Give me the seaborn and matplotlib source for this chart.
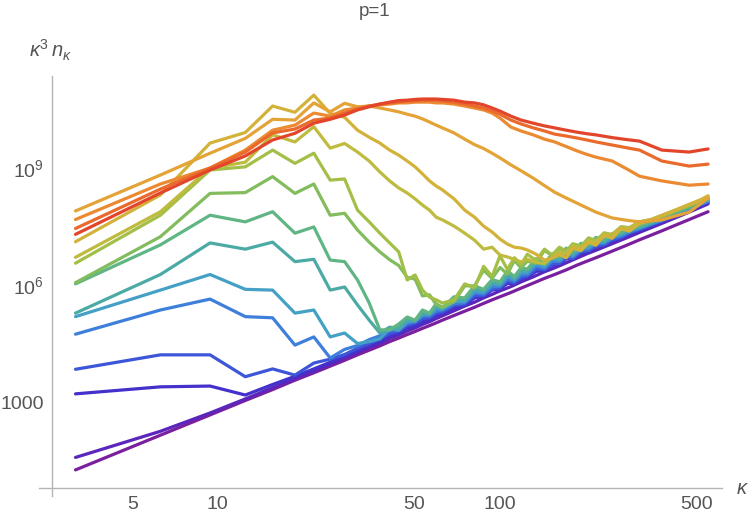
import numpy as np
import pandas as pd
import seaborn as sns
import matplotlib.pyplot as plt
from matplotlib.ticker import FixedLocator, FixedFormatter, NullFormatter

# mode numbers on the lattice, kappa = pi * n
# coarse grid for the smooth curves, finer grid for the noisy ones
mode_coarse = [1, 2, 3, 4, 5, 6, 7, 8, 9, 10, 11, 12, 13, 14, 15, 16, 17, 18, 19, 20,
               22, 24, 26, 28, 30, 32, 35, 38, 42, 46, 50, 55, 60, 65, 70, 80, 90, 100, 120, 150, 175]
mode_fine = [1, 2, 3, 4, 5, 6, 7, 8, 9, 10, 11, 12, 13, 14, 15, 16, 17, 18, 19, 20,
             22, 24, 26, 28, 30, 32, 34, 36, 38, 40, 43, 46, 49, 52, 55, 58, 62, 66, 70, 75,
             80, 86, 92, 100, 110, 120, 135, 150, 165, 175]

# log10(kappa^3 n_kappa) per saved time step, early (purple) -> late (red)
t00 = [1.26, 2.15, 2.67, 3.04, 3.32, 3.56, 3.75, 3.92, 4.07, 4.21, 4.33, 4.44, 4.55, 4.64, 4.73, 4.81, 4.89, 4.96, 5.03, 5.10,
       5.22, 5.33, 5.43, 5.53, 5.62, 5.70, 5.81, 5.92, 6.05, 6.17, 6.27, 6.39, 6.51, 6.61, 6.70, 6.87, 7.02, 7.16, 7.39, 7.68, 7.88]
t01 = [1.58, 2.25, 2.72, 3.08, 3.37, 3.60, 3.80, 3.97, 4.13, 4.27, 4.40, 4.51, 4.63, 4.72, 4.82, 4.90, 4.99, 5.06, 5.14, 5.21,
       5.34, 5.46, 5.56, 5.67, 5.76, 5.85, 5.96, 6.08, 6.21, 6.34, 6.44, 6.57, 6.69, 6.80, 6.89, 7.06, 7.21, 7.35, 7.58, 7.87, 8.08]
t02 = [3.21, 3.39, 3.41, 3.18, 3.45, 3.66, 3.85, 4.02, 4.18, 4.32, 4.46, 4.55, 4.70, 4.76, 4.90, 4.95, 5.06, 5.12, 5.22, 5.27,
       5.42, 5.48, 5.67, 5.71, 5.87, 5.90, 6.04, 6.04, 6.16, 6.20, 6.35, 6.37, 6.50, 6.54, 6.67, 6.67, 6.81, 6.86, 6.97, 7.01,
       7.13, 7.20, 7.30, 7.40, 7.52, 7.62, 7.78, 7.91, 8.04, 8.11]
t03 = [3.84, 4.21, 4.21, 3.65, 3.85, 3.69, 4.00, 4.10, 4.22, 4.38, 4.50, 4.62, 4.76, 4.82, 4.96, 5.02, 5.14, 5.16, 5.28, 5.31,
       5.48, 5.51, 5.73, 5.73, 5.90, 5.92, 6.10, 6.05, 6.19, 6.23, 6.41, 6.39, 6.53, 6.56, 6.70, 6.68, 6.85, 6.88, 7.00, 7.03,
       7.16, 7.22, 7.33, 7.42, 7.54, 7.64, 7.80, 7.93, 8.06, 8.13]
t04 = [4.74, 5.36, 5.64, 5.19, 5.16, 4.46, 4.67, 4.13, 4.35, 4.45, 4.60, 4.70, 4.84, 4.86, 5.02, 5.06, 5.20, 5.21, 5.33, 5.36,
       5.52, 5.55, 5.79, 5.77, 5.95, 5.97, 6.16, 6.10, 6.26, 6.27, 6.48, 6.43, 6.61, 6.60, 6.76, 6.72, 6.90, 6.92, 7.06, 7.07,
       7.20, 7.26, 7.36, 7.45, 7.56, 7.66, 7.82, 7.95, 8.07, 8.15]
t05 = [5.19, 5.87, 6.27, 5.89, 5.87, 5.28, 5.36, 4.67, 4.77, 4.50, 4.55, 4.62, 4.88, 4.84, 5.06, 5.08, 5.25, 5.24, 5.40, 5.38,
       5.58, 5.58, 5.85, 5.81, 6.02, 6.00, 6.23, 6.14, 6.32, 6.32, 6.55, 6.47, 6.67, 6.64, 6.83, 6.76, 6.96, 6.96, 7.12, 7.10,
       7.24, 7.29, 7.40, 7.47, 7.58, 7.68, 7.84, 7.97, 8.09, 8.17]
t06 = [5.28, 6.27, 7.08, 6.92, 7.10, 6.60, 6.66, 5.87, 5.95, 5.49, 5.10, 4.77, 4.92, 4.90, 5.12, 5.08, 5.30, 5.26, 5.46, 5.40,
       5.64, 5.63, 5.91, 5.86, 6.08, 6.04, 6.30, 6.18, 6.38, 6.37, 6.62, 6.51, 6.73, 6.68, 6.89, 6.80, 7.01, 7.00, 7.17, 7.13,
       7.28, 7.32, 7.43, 7.49, 7.60, 7.70, 7.86, 7.99, 8.11, 8.19]
t07 = [6.03, 7.03, 7.79, 7.62, 7.88, 7.33, 7.49, 6.64, 6.60, 6.13, 5.54, 4.85, 4.85, 5.00, 5.18, 5.10, 5.36, 5.28, 5.52, 5.42,
       5.70, 5.67, 5.98, 5.89, 6.14, 6.08, 6.36, 6.22, 6.44, 6.41, 6.68, 6.55, 6.80, 6.72, 6.95, 6.84, 7.07, 7.04, 7.22, 7.16,
       7.32, 7.35, 7.46, 7.51, 7.62, 7.72, 7.88, 8.01, 8.13, 8.21]
t08 = [6.06, 7.24, 8.35, 8.37, 8.78, 8.35, 8.59, 7.79, 7.84, 7.41, 7.10, 6.85, 6.65, 6.50, 6.20, 6.15, 5.72, 5.75, 5.50, 5.44,
       5.57, 5.98, 5.98, 6.38, 6.17, 6.45, 6.28, 6.63, 6.44, 6.61, 6.56, 6.89, 6.75, 6.94, 6.85, 7.01, 7.01, 7.15, 7.14, 7.29,
       7.29, 7.49, 7.47, 7.61, 7.66, 7.75, 7.90, 8.03, 8.15, 8.23]
t09 = [6.56, 7.79, 8.95, 9.03, 9.46, 9.12, 9.38, 8.69, 8.72, 7.92, 7.62, 7.33, 7.08, 6.85, 6.13, 6.26, 5.87, 5.69, 5.62, 5.54,
       5.62, 6.03, 5.93, 6.48, 6.22, 6.75, 6.40, 6.70, 6.52, 6.79, 6.63, 6.92, 6.77, 6.97, 6.87, 7.06, 7.00, 7.21, 7.14, 7.34,
       7.29, 7.49, 7.47, 7.62, 7.68, 7.78, 7.92, 8.05, 8.17, 8.25]
t10 = [6.71, 7.88, 9.00, 9.15, 9.85, 9.67, 10.06, 9.51, 9.63, 9.41, 9.18, 8.90, 8.67, 8.49, 8.36, 8.21, 8.05, 7.92, 7.74, 7.67,
       7.51, 7.33, 7.15, 6.92, 6.97, 6.77, 6.72, 6.66, 6.59, 6.66, 6.58, 6.55, 6.72, 6.85, 6.80, 7.00, 6.95, 7.13, 7.10, 7.30,
       7.30, 7.48, 7.45, 7.62, 7.68, 7.79, 7.93, 8.06, 8.18, 8.27]
t11 = [7.11, 8.31, 9.64, 9.91, 10.59, 10.43, 10.87, 10.40, 10.30, 9.97, 9.79, 9.64, 9.46, 9.33, 9.18, 9.03, 8.85, 8.67, 8.54, 8.44,
       8.21, 7.92, 7.74, 7.51, 7.36, 7.18, 7.05, 6.97, 6.95, 6.90, 6.79, 6.64, 6.69, 6.78, 6.70, 6.95, 6.88, 7.10, 7.02, 7.28,
       7.20, 7.45, 7.38, 7.58, 7.66, 7.78, 7.93, 8.07, 8.19, 8.29]
t12 = [7.90, 8.82, 9.38, 9.76, 10.25, 10.23, 10.67, 10.44, 10.66, 10.57, 10.59, 10.54, 10.49, 10.44, 10.38, 10.33, 10.26, 10.18, 10.10, 10.03,
       9.90, 9.74, 9.60, 9.50, 9.38, 9.26, 9.08, 8.93, 8.74, 8.55, 8.38, 8.23, 8.10, 7.98, 7.87, 7.72, 7.66, 7.62, 7.67, 7.87, 8.23]
t13 = [7.68, 8.59, 9.00, 9.46, 9.97, 10.10, 10.41, 10.33, 10.49, 10.54, 10.59, 10.62, 10.64, 10.67, 10.67, 10.69, 10.69, 10.69, 10.67, 10.67,
       10.64, 10.59, 10.54, 10.49, 10.41, 10.28, 10.05, 9.95, 9.85, 9.74, 9.67, 9.55, 9.44, 9.35, 9.28, 9.18, 8.98, 8.79, 8.67, 8.56, 8.59]
t14 = [7.45, 8.46, 9.00, 9.41, 9.90, 10.00, 10.23, 10.28, 10.41, 10.51, 10.59, 10.64, 10.67, 10.69, 10.72, 10.72, 10.74, 10.74, 10.74, 10.72,
       10.69, 10.64, 10.59, 10.54, 10.46, 10.38, 10.23, 10.13, 10.03, 9.95, 9.87, 9.82, 9.77, 9.72, 9.67, 9.59, 9.52, 9.46, 9.18, 9.05, 9.10]
t15 = [7.30, 8.36, 8.95, 9.31, 9.72, 9.89, 10.15, 10.25, 10.36, 10.49, 10.57, 10.64, 10.69, 10.73, 10.74, 10.76, 10.77, 10.77, 10.77, 10.76,
       10.74, 10.69, 10.67, 10.62, 10.54, 10.46, 10.33, 10.23, 10.15, 10.08, 10.03, 9.97, 9.92, 9.88, 9.85, 9.78, 9.73, 9.69, 9.46, 9.41, 9.49]

steps = [t00, t01, t02, t03, t04, t05, t06, t07, t08, t09, t10, t11, t12, t13, t14, t15]

colors = ['#7a1f9e', '#5a26bc', '#4431cb', '#3d56d8', '#3f7fdc', '#45a0c6', '#4caaa4', '#60b584',
          '#82bc5d', '#a3bf47', '#bebb3e', '#d3b23a', '#e3a336', '#ec8a31', '#ea6a2c', '#e3452a']

rows = []
for i, s in enumerate(steps):
    grid = mode_fine if len(s) == len(mode_fine) else mode_coarse
    for n, v in zip(grid, s):
        rows.append((i, np.pi * n, 10.0 ** v))
df = pd.DataFrame(rows, columns=['step', 'kappa', 'value'])

sns.set_style('white')
plt.rcParams['font.family'] = ['Liberation Sans', 'DejaVu Sans']
plt.rcParams['mathtext.fontset'] = 'custom'
plt.rcParams['mathtext.rm'] = 'Liberation Sans'
plt.rcParams['mathtext.it'] = 'Liberation Sans:italic'
plt.rcParams['lines.solid_joinstyle'] = 'round'
plt.rcParams['lines.solid_capstyle'] = 'round'

txt = '#555555'
axc = '#b4b4b4'

fig = plt.figure(figsize=(7.5, 5.23), dpi=100)
ax = fig.add_axes([39 / 750, 27 / 523, 683 / 750, 420 / 523])

sns.lineplot(data=df, x='kappa', y='value', hue='step', palette=colors,
             estimator=None, legend=False, lw=2.3, ax=ax)

ax.set_xscale('log')
ax.set_yscale('log')
ax.set_xlim(2.332, 616)
ax.set_ylim(3.9, 2.29e11)

ax.spines['top'].set_visible(False)
ax.spines['right'].set_visible(False)
ax.spines['left'].set_position(('data', 2.594))
ax.spines['bottom'].set_position(('data', 6.24))
for sp in ['left', 'bottom']:
    ax.spines[sp].set_color(axc)
    ax.spines[sp].set_linewidth(1.0)

ax.xaxis.set_major_locator(FixedLocator([5, 10, 50, 100, 500]))
ax.xaxis.set_major_formatter(FixedFormatter(['5', '10', '50', '100', '500']))
ax.xaxis.set_minor_locator(FixedLocator([3, 4, 6, 7, 8, 9, 20, 30, 40, 60, 70, 80, 90, 200, 300, 400, 600]))
ax.xaxis.set_minor_formatter(NullFormatter())
ax.yaxis.set_major_locator(FixedLocator([1e3, 1e6, 1e9]))
ax.yaxis.set_major_formatter(FixedFormatter(['1000', r'$10^6$', r'$10^9$']))
ax.yaxis.set_minor_locator(FixedLocator([1e1, 1e2, 1e4, 1e5, 1e7, 1e8, 1e10, 1e11]))
ax.yaxis.set_minor_formatter(NullFormatter())

ax.tick_params(which='both', direction='in', color=axc, labelcolor=txt, labelsize=14)
ax.tick_params(which='major', length=5, width=1, pad=6)
ax.tick_params(which='minor', length=3, width=0.8)
ax.set_xlabel('')
ax.set_ylabel('')

fig.text(0.5, 1 - 12 / 523, 'p=1', ha='center', va='center', color=txt, fontsize=13.5)
fig.text(50 / 750, 1 - 50 / 523, r'$\kappa^3\,n_\kappa$', ha='center', va='center', color=txt, fontsize=14.5)
fig.text(742 / 750, 1 - 488 / 523, r'$\kappa$', ha='center', va='center', color=txt, fontsize=14.5)

fig.savefig('out.png', dpi=100)
